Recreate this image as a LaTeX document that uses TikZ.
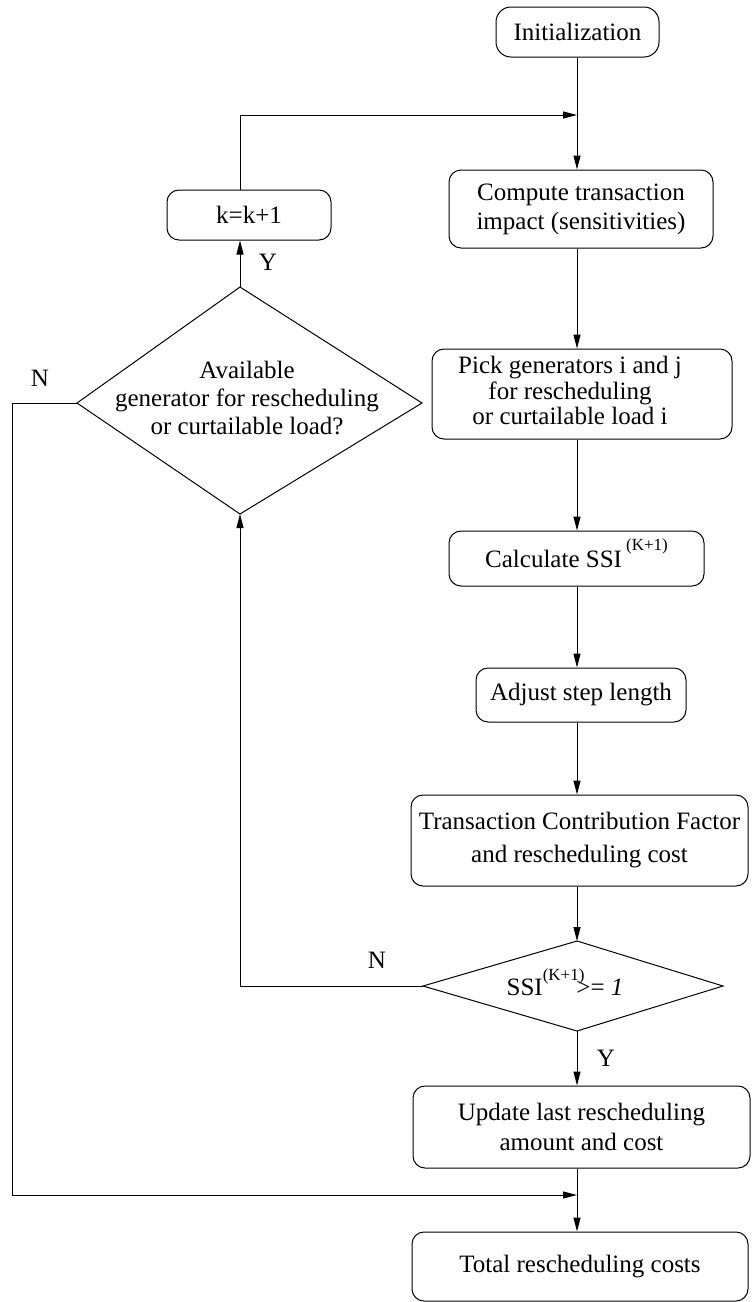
\documentclass[tikz,border=0pt]{standalone}
\usepackage{fontspec}
\setmainfont{Liberation Serif}
\usetikzlibrary{arrows.meta}
\tikzset{
  box/.style={draw, rounded corners=12pt, line width=1pt, inner sep=0pt, font=\fontsize{25}{29}\selectfont},
  lbl/.style={font=\fontsize{25}{29}\selectfont, inner sep=0pt},
  conn/.style={line width=1pt},
  arr/.style={conn, -{Triangle[length=14pt,width=7pt]}},
}
\newcommand{\supK}[1]{\smash{\raisebox{#1}{\fontsize{17}{17}\selectfont (K+1)}}}
\begin{document}
\begin{tikzpicture}[x=1pt,y=-1pt]
\useasboundingbox (0,0) rectangle (753,1302);
% boxes
\node[box, rounded corners=15pt, minimum width=163pt, minimum height=50pt] (init) at (577.5,32) {Initialization};
\coordinate (j1) at (577,115);
\node[box, align=center, minimum width=264pt, minimum height=78pt] (comp) at (581,209) {Compute transaction\\impact (sensitivities)};
\node[box, minimum width=164pt, minimum height=50pt] (kbox) at (249,215) {k=k+1};
\node[box, font=\fontsize{25}{25}\selectfont, minimum width=300pt, minimum height=90pt] (pick) at (582,394) {\begin{tabular}{@{}c@{}}Pick generators i and j\\for rescheduling\\or curtailable load i\end{tabular}\hspace*{24pt}};
\node[box, minimum width=255pt, minimum height=55pt] (calc) at (576.5,558.5) {Calculate SSI\,\supK{17pt}};
\node[box, minimum width=210pt, minimum height=54pt] (adj) at (581,695) {Adjust step length};
\node[box, align=center, minimum width=337pt, minimum height=91pt, font=\fontsize{25}{33}\selectfont] (trans) at (579.5,840.5) {Transaction Contribution Factor\\and rescheduling cost};
\node[box, align=center, minimum width=337pt, minimum height=82pt, font=\fontsize{25}{30}\selectfont] (upd) at (581.5,1127) {Update last rescheduling\\amount and cost};
\node[box, minimum width=336pt, minimum height=69pt] (tot) at (580,1266.5) {Total rescheduling costs};
\coordinate (j2) at (577,1195);
% diamond 1
\coordinate (d1t) at (240,287);
\coordinate (d1r) at (422,403);
\coordinate (d1b) at (240,514);
\coordinate (d1l) at (77,403);
\draw[line width=1pt] (d1t) -- (d1r) -- (d1b) -- (d1l) -- cycle;
\node[lbl, align=center, font=\fontsize{25}{28}\selectfont] (d1) at (247,398) {Available\\generator for rescheduling\\or curtailable load?};
% diamond 2
\coordinate (d2t) at (577,941);
\coordinate (d2r) at (723,986);
\coordinate (d2b) at (577,1031);
\coordinate (d2l) at (423,986);
\draw[line width=1pt] (d2t) -- (d2r) -- (d2b) -- (d2l) -- cycle;
\node[lbl] (d2) at (565,987) {SSI\supK{15pt}\hspace{-8pt}>=\ \textit{1}};
% labels
\node[lbl] (ylab1) at (268,262) {Y};
\node[lbl] (nlab1) at (40,378) {N};
\node[lbl] (nlab2) at (377,960) {N};
\node[lbl] (ylab2) at (606,1058) {Y};
% connectors
\draw[conn] (init.south -| j1) -- (j1);
\draw[arr] (j1) -- (j1 |- comp.north);
\draw[arr] (d1t |- kbox.north) -- (d1t |- j1) -- (j1);
\draw[arr] (d1t) -- (d1t |- kbox.south);
\draw[arr] (comp.south -| j1) -- (pick.north -| j1);
\draw[arr] (pick.south -| j1) -- (calc.north -| j1);
\draw[arr] (calc.south -| j1) -- (adj.north -| j1);
\draw[arr] (adj.south -| j1) -- (trans.north -| j1);
\draw[arr] (trans.south -| j1) -- (d2t);
\draw[arr] (d2l) -- (d1b |- d2l) -- (d1b);
\draw[arr] (d2b) -- (upd.north -| d2b);
\coordinate (lc) at (12,403);
\draw[arr] (d1l) -- (lc) -- (lc |- j2) -- (j2);
\draw[conn] (upd.south -| j2) -- (j2);
\draw[arr] (j2) -- (tot.north -| j2);
\end{tikzpicture}
\end{document}
